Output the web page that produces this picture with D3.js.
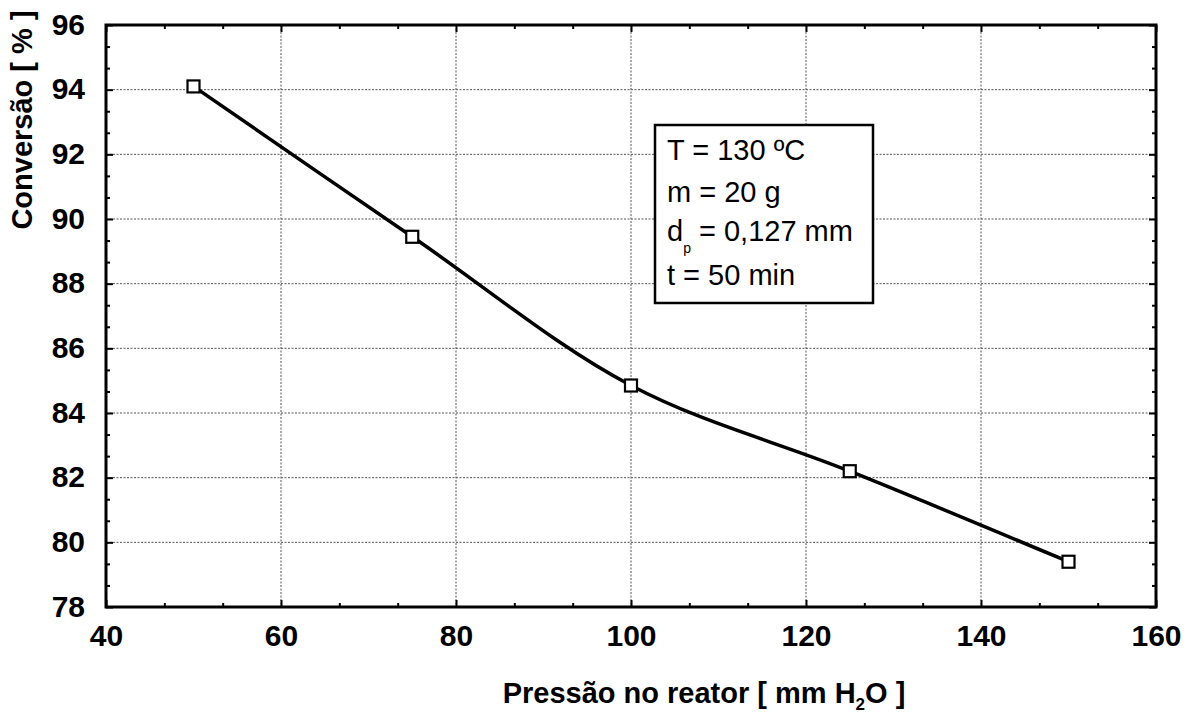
<!DOCTYPE html>
<html>
<head>
<meta charset="utf-8">
<script src="https://cdn.jsdelivr.net/npm/d3@7"></script>
<style>
  html, body { margin: 0; padding: 0; background: #fff; }
  svg { display: block; font-family: "Liberation Sans", Arial, sans-serif; }
</style>
</head>
<body>
<svg id="chart" width="1191" height="719"></svg>
<script>
// Conversion vs reactor pressure
const pressure = [50, 75, 100, 125, 150];
const conversion = [94.1, 89.45, 84.85, 82.2, 79.4];

const xTicks = [40, 60, 80, 100, 120, 140, 160];
const yTicks = [78, 80, 82, 84, 86, 88, 90, 92, 94, 96];

const conditions = ["T = 130 ºC", "m = 20 g", "d|p| = 0,127 mm", "t = 50 min"];

const plot = { left: 106, top: 25, right: 1156, bottom: 607 };

const svg = d3.select("#chart");

const x = d3.scaleLinear().domain([40, 160]).range([plot.left, plot.right]);
const y = d3.scaleLinear().domain([78, 96]).range([plot.bottom, plot.top]);

// minor ticks: each major interval split in three
const xMinor = [];
for (let i = 0; i < xTicks.length - 1; i++) {
  const step = (xTicks[i + 1] - xTicks[i]) / 3;
  xMinor.push(xTicks[i] + step, xTicks[i] + 2 * step);
}
const yMinor = [];
for (let i = 0; i < yTicks.length - 1; i++) {
  const step = (yTicks[i + 1] - yTicks[i]) / 3;
  yMinor.push(yTicks[i] + step, yTicks[i] + 2 * step);
}

// grid
const grid = svg.append("g").attr("stroke", "#555").attr("stroke-width", 1)
  .attr("stroke-dasharray", "2,1.5");
grid.selectAll("line.gx").data(xTicks.slice(1, -1)).join("line")
  .attr("x1", d => x(d)).attr("x2", d => x(d))
  .attr("y1", plot.top).attr("y2", plot.bottom);
grid.selectAll("line.gy").data(yTicks.slice(1, -1)).join("line")
  .attr("y1", d => y(d)).attr("y2", d => y(d))
  .attr("x1", plot.left).attr("x2", plot.right);

const tickFont = g => g.selectAll("text")
  .attr("font-size", 30).attr("font-weight", "bold").attr("fill", "#000");

// bottom axis with labels
const axB = svg.append("g").attr("transform", `translate(0,${plot.bottom})`)
  .call(d3.axisBottom(x).tickValues(xTicks).tickSize(-7).tickPadding(18).tickSizeOuter(0));
axB.call(tickFont);
svg.append("g").attr("transform", `translate(0,${plot.bottom})`)
  .call(d3.axisBottom(x).tickValues(xMinor).tickSize(-4).tickFormat(""));
// top axis
svg.append("g").attr("transform", `translate(0,${plot.top})`)
  .call(d3.axisTop(x).tickValues(xTicks).tickSize(-7).tickFormat(""));
svg.append("g").attr("transform", `translate(0,${plot.top})`)
  .call(d3.axisTop(x).tickValues(xMinor).tickSize(-4).tickFormat(""));
// left axis with labels
const axL = svg.append("g").attr("transform", `translate(${plot.left},0)`)
  .call(d3.axisLeft(y).tickValues(yTicks).tickSize(-7).tickPadding(21));
axL.call(tickFont);
axL.selectAll("text").attr("dy", "0.3em");
svg.append("g").attr("transform", `translate(${plot.left},0)`)
  .call(d3.axisLeft(y).tickValues(yMinor).tickSize(-4).tickFormat(""));
// right axis
svg.append("g").attr("transform", `translate(${plot.right},0)`)
  .call(d3.axisRight(y).tickValues(yTicks).tickSize(-7).tickFormat(""));
svg.append("g").attr("transform", `translate(${plot.right},0)`)
  .call(d3.axisRight(y).tickValues(yMinor).tickSize(-4).tickFormat(""));

svg.selectAll(".domain").remove();
svg.selectAll(".tick line").attr("stroke", "#000").attr("stroke-width", 2);

// frame
svg.append("rect")
  .attr("x", plot.left).attr("y", plot.top)
  .attr("width", plot.right - plot.left).attr("height", plot.bottom - plot.top)
  .attr("fill", "none").attr("stroke", "#000").attr("stroke-width", 3);

// fitted curve
const pts = pressure.map((p, i) => [p, conversion[i]]);
const line = d3.line().x(d => x(d[0])).y(d => y(d[1])).curve(d3.curveCatmullRom.alpha(0.5));
svg.append("path").datum(pts)
  .attr("d", line).attr("fill", "none").attr("stroke", "#000").attr("stroke-width", 3.5);

// markers
const ms = 12;
svg.selectAll("rect.pt").data(pts).join("rect").attr("class", "pt")
  .attr("x", d => x(d[0]) - ms / 2).attr("y", d => y(d[1]) - ms / 2)
  .attr("width", ms).attr("height", ms)
  .attr("fill", "#fff").attr("stroke", "#000").attr("stroke-width", 2.2);

// conditions box
const box = { x: 655, y: 125, w: 218, h: 178 };
svg.append("rect").attr("x", box.x).attr("y", box.y).attr("width", box.w).attr("height", box.h)
  .attr("fill", "#fff").attr("stroke", "#000").attr("stroke-width", 2.5);
const baselines = [35, 77, 116, 160];
conditions.forEach((s, i) => {
  const t = svg.append("text")
    .attr("x", box.x + 12).attr("y", box.y + baselines[i])
    .attr("font-size", 29).attr("fill", "#000");
  const parts = s.split("|");
  if (parts.length === 3) {
    t.append("tspan").text(parts[0]);
    t.append("tspan").text(parts[1]).attr("font-size", 14).attr("dy", 12);
    t.append("tspan").text(parts[2]).attr("dy", -12);
  } else {
    t.text(s);
  }
});

// axis titles
const xt = svg.append("text").attr("x", 704).attr("y", 703)
  .attr("text-anchor", "middle").attr("font-size", 29).attr("font-weight", "bold");
xt.append("tspan").text("Pressão no reator [ mm H");
xt.append("tspan").text("2").attr("font-size", 17).attr("dy", 7);
xt.append("tspan").text("O ]").attr("dy", -7);

svg.append("text")
  .attr("transform", "translate(32,120) rotate(-90)")
  .attr("text-anchor", "middle").attr("font-size", 29).attr("font-weight", "bold")
  .text("Conversão [ % ]");
</script>
</body>
</html>
